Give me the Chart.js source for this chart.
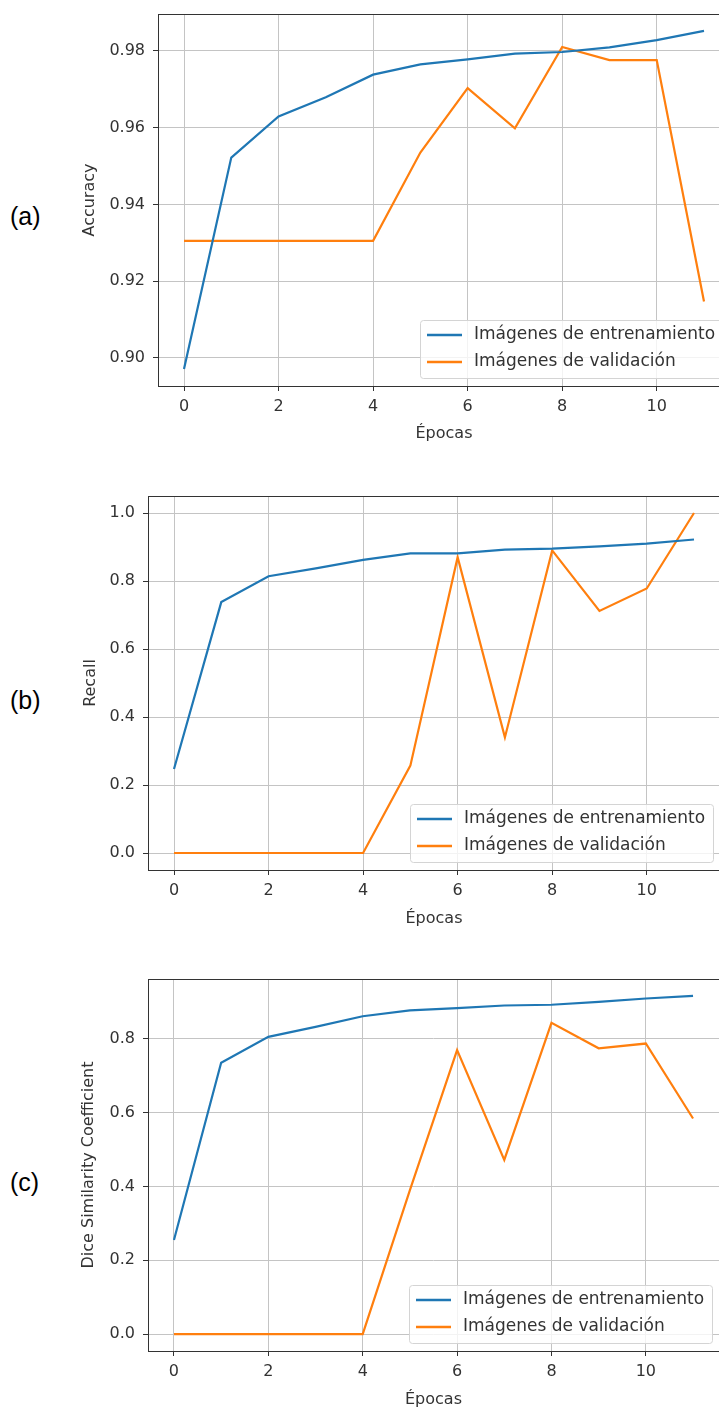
<!DOCTYPE html>
<html>
<head>
<meta charset="utf-8">
<title>Métricas de entrenamiento</title>
<script src="https://cdn.jsdelivr.net/npm/chart.js@4/dist/chart.umd.min.js"></script>
<style>
  html, body { margin: 0; padding: 0; background: #fff; overflow: hidden; }
  body { position: relative; width: 719px; height: 1408px; }
  canvas { position: absolute; left: 0; }
  .tag { position: absolute; left: 10px; font: 25px "Liberation Sans", Arial, sans-serif; color: #000; line-height: 1; transform: translateY(-50%); }
</style>
</head>
<body>
<div class="tag" style="top:216px">(a)</div>
<div class="tag" style="top:700px">(b)</div>
<div class="tag" style="top:1182px">(c)</div>
<canvas id="accChart" width="740" height="443" style="top:0px"></canvas>
<canvas id="recChart" width="730" height="448" style="top:480px"></canvas>
<canvas id="diceChart" width="729" height="449" style="top:960px"></canvas>
<script>
const epochs = [0, 1, 2, 3, 4, 5, 6, 7, 8, 9, 10, 11];
const xTickLabels = ['0', '2', '4', '6', '8', '10'];
const seriesNames = ['Imágenes de entrenamiento', 'Imágenes de validación'];

const accTrain = [0.8971, 0.9522, 0.9629, 0.9679, 0.9738, 0.9765, 0.9778, 0.9793, 0.9797, 0.9809, 0.9828, 0.9852];
const accVal = [0.9305, 0.9305, 0.9305, 0.9305, 0.9305, 0.9535, 0.9703, 0.9598, 0.9810, 0.9776, 0.9776, 0.9147];
const accTicks = ['0.90', '0.92', '0.94', '0.96', '0.98'];

const recTrain = [0.247, 0.738, 0.814, 0.837, 0.862, 0.881, 0.881, 0.892, 0.895, 0.902, 0.910, 0.922];
const recVal = [0, 0, 0, 0, 0, 0.257, 0.870, 0.340, 0.890, 0.712, 0.778, 1.0];
const recTicks = ['0.0', '0.2', '0.4', '0.6', '0.8', '1.0'];

const diceTrain = [0.255, 0.735, 0.805, 0.832, 0.861, 0.877, 0.883, 0.890, 0.892, 0.900, 0.909, 0.916];
const diceVal = [0, 0, 0, 0, 0, 0.390, 0.769, 0.472, 0.843, 0.774, 0.787, 0.584];
const diceTicks = ['0.0', '0.2', '0.4', '0.6', '0.8'];

const BLUE = '#1f77b4';
const ORANGE = '#ff7f0e';
const FONT = 'DejaVu Sans';
const TEXT = '#333';

Chart.defaults.font.family = FONT;
Chart.defaults.font.size = 16;
Chart.defaults.color = TEXT;

// box around the plotting area, like matplotlib spines
const framePlugin = {
  id: 'frame',
  afterDatasetsDraw(chart) {
    const { ctx, chartArea: a } = chart;
    ctx.save();
    ctx.strokeStyle = '#333';
    ctx.lineWidth = 1;
    ctx.strokeRect(Math.round(a.left) + 0.5, Math.round(a.top) + 0.5, Math.round(a.width), Math.round(a.height));
    ctx.restore();
  }
};

// legend drawn inside the lower right corner of the plot
const insetLegend = {
  id: 'insetLegend',
  afterDraw(chart) {
    const { ctx, chartArea: a } = chart;
    ctx.save();
    ctx.font = '17px "' + FONT + '"';
    const textW = Math.max(...chart.data.datasets.map(d => ctx.measureText(d.label).width));
    const w = Math.round(54 + textW + 8), h = 58;
    const x = Math.round(a.right - 7 - w), y = Math.round(a.bottom - 8 - h);
    ctx.beginPath();
    ctx.roundRect(x + 0.5, y + 0.5, w, h, 3);
    ctx.fillStyle = 'rgba(255,255,255,0.8)';
    ctx.fill();
    ctx.strokeStyle = '#d4d4d4';
    ctx.lineWidth = 1;
    ctx.stroke();
    ctx.textBaseline = 'middle';
    chart.data.datasets.forEach((ds, i) => {
      const ly = y + 15 + i * 27;
      ctx.beginPath();
      ctx.moveTo(x + 7, ly);
      ctx.lineTo(x + 42, ly);
      ctx.strokeStyle = ds.borderColor;
      ctx.lineWidth = 2.5;
      ctx.stroke();
      ctx.fillStyle = TEXT;
      ctx.fillText(ds.label, x + 54, ly);
    });
    ctx.restore();
  }
};

function range(values) {
  const lo = Math.min(...values), hi = Math.max(...values);
  const m = (hi - lo) * 0.05;
  return [lo - m, hi + m];
}

function makeChart(id, yTitle, train, val, yTicks, box) {
  const [xMin, xMax] = range(epochs);
  const [yMin, yMax] = range(train.concat(val));
  const pts = arr => epochs.map((e, i) => ({ x: e, y: arr[i] }));
  return new Chart(document.getElementById(id), {
    type: 'line',
    data: {
      datasets: [
        { label: seriesNames[0], data: pts(train), borderColor: BLUE, borderWidth: 2.2, pointRadius: 0, tension: 0 },
        { label: seriesNames[1], data: pts(val), borderColor: ORANGE, borderWidth: 2.2, pointRadius: 0, tension: 0 }
      ]
    },
    options: {
      responsive: false,
      animation: false,
      events: [],
      layout: { padding: { left: box.padLeft, top: box.padTop, right: box.padRight, bottom: 0 } },
      plugins: { legend: { display: false }, tooltip: { enabled: false } },
      scales: {
        x: {
          type: 'linear',
          min: xMin,
          max: xMax,
          afterBuildTicks: s => { s.ticks = xTickLabels.map(t => ({ value: Number(t) })); },
          afterFit: s => { s.height = box.xHeight; s.paddingLeft = 0; s.paddingRight = 0; },
          ticks: { padding: 6, maxRotation: 0, callback: v => String(v) },
          grid: { color: '#c4c4c4', lineWidth: 1, tickColor: '#333', tickLength: 5 },
          border: { display: false },
          title: { display: true, text: 'Épocas', padding: { top: 0, bottom: 0 } }
        },
        y: {
          min: yMin,
          max: yMax,
          afterBuildTicks: s => { s.ticks = yTicks.map(t => ({ value: Number(t) })); },
          afterFit: s => { s.width = box.yWidth; s.paddingTop = 0; s.paddingBottom = 0; },
          ticks: { padding: 8, callback: v => yTicks.find(t => Number(t) === v) },
          grid: { color: '#c4c4c4', lineWidth: 1, tickColor: '#333', tickLength: 5 },
          border: { display: false },
          title: { display: true, text: yTitle, padding: { top: 0, bottom: 0 } }
        }
      }
    },
    plugins: [framePlugin, insetLegend]
  });
}

makeChart('accChart', 'Accuracy', accTrain, accVal, accTicks,
  { padLeft: 80, padTop: 14, padRight: 10, yWidth: 78, xHeight: 57 });
makeChart('recChart', 'Recall', recTrain, recVal, recTicks,
  { padLeft: 81, padTop: 16, padRight: 10, yWidth: 67, xHeight: 58 });
makeChart('diceChart', 'Dice Similarity Coefficient', diceTrain, diceVal, diceTicks,
  { padLeft: 79, padTop: 19, padRight: 10, yWidth: 69, xHeight: 58 });
</script>
</body>
</html>
